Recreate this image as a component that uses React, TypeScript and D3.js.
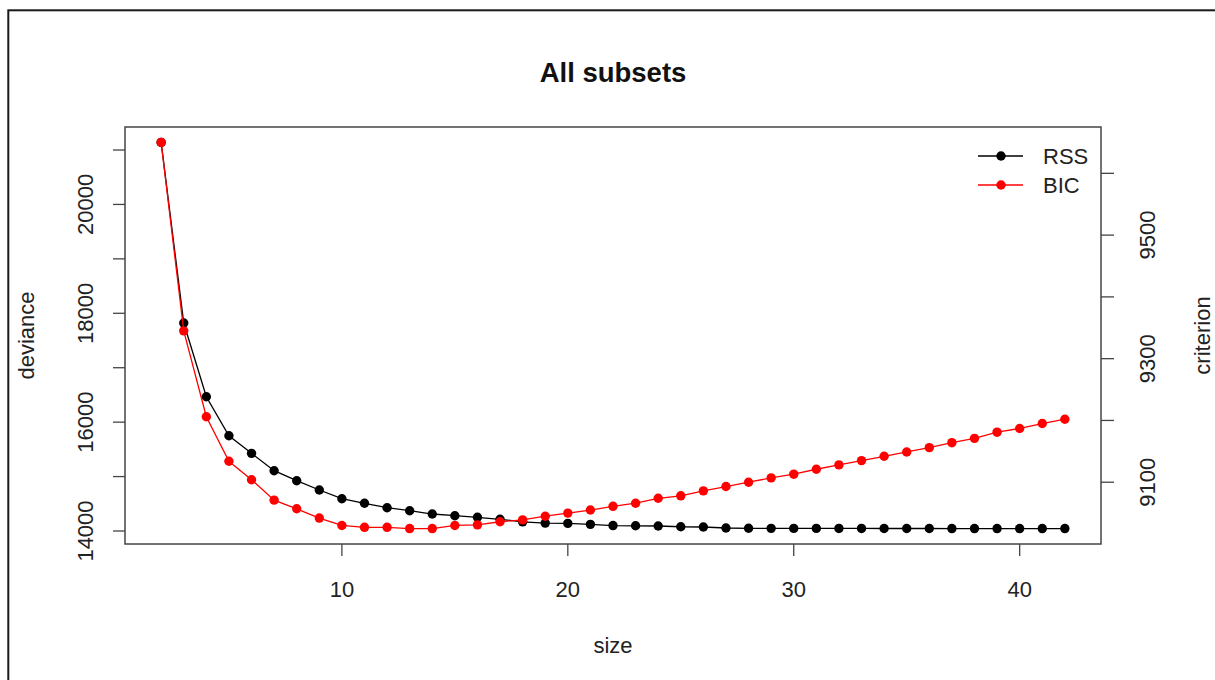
import React from "react";
import { scaleLinear, line, extent } from "d3";

// model sizes and the two criteria
const sizes = [
  2, 3, 4, 5, 6, 7, 8, 9, 10, 11, 12, 13, 14, 15, 16, 17, 18, 19, 20, 21, 22,
  23, 24, 25, 26, 27, 28, 29, 30, 31, 32, 33, 34, 35, 36, 37, 38, 39, 40, 41, 42
];
const rss = [
  21139, 17821, 16467, 15751, 15427, 15108, 14924, 14753, 14593, 14509, 14428,
  14373, 14312, 14281, 14252, 14215, 14169, 14145, 14140, 14122, 14100, 14096,
  14092, 14078, 14074, 14055, 14050, 14049, 14048, 14048, 14047, 14047, 14046,
  14046, 14046, 14045, 14045, 14045, 14045, 14045, 14045
];
const bic = [
  9650, 9345, 9206, 9134, 9104, 9071, 9057, 9042, 9030, 9027, 9027, 9025, 9025,
  9030, 9031, 9036, 9039, 9045, 9050, 9055, 9061, 9066, 9074, 9078, 9086, 9093,
  9100, 9107, 9113, 9121, 9128, 9135, 9142, 9149, 9156, 9164, 9171, 9181, 9187,
  9195, 9202
];

const xTicks = [10, 20, 30, 40];
const leftTicks = [14000, 15000, 16000, 17000, 18000, 19000, 20000, 21000];
const leftLabels = [14000, 16000, 18000, 20000];
const rightTicks = [9100, 9200, 9300, 9400, 9500, 9600];
const rightLabels = [9100, 9300, 9500];

const legendKeys = ["RSS", "BIC"];
const colors: Record<string, string> = { RSS: "#000000", BIC: "#ff0000" };

const W = 1215;
const H = 680;
const plot = { left: 125, right: 1101, top: 127, bottom: 544 };
const FONT = "'Liberation Sans', Arial, Helvetica, sans-serif";

// R style axis range: data extent padded by 4% on each side
function rDomain(vals: number[]): [number, number] {
  const [lo, hi] = extent(vals) as [number, number];
  const pad = (hi - lo) * 0.04;
  return [lo - pad, hi + pad];
}

export default function App() {
  const x = scaleLinear().domain(rDomain(sizes)).range([plot.left, plot.right]);
  const yL = scaleLinear().domain(rDomain(rss)).range([plot.bottom, plot.top]);
  const yR = scaleLinear().domain(rDomain(bic)).range([plot.bottom, plot.top]);

  const rssPts = sizes.map((s, i) => [x(s), yL(rss[i])] as [number, number]);
  const bicPts = sizes.map((s, i) => [x(s), yR(bic[i])] as [number, number]);
  const path = line();

  const series = [
    { key: "RSS", pts: rssPts },
    { key: "BIC", pts: bicPts }
  ];

  return (
    <div style={{ position: "absolute", left: 0, top: 0 }}>
      <svg width={W} height={H} style={{ display: "block", background: "#fff" }} fontFamily={FONT}>
        {/* outer frame of the screenshot */}
        <rect x={8.3} y={10.3} width={W + 20} height={H + 20} fill="none" stroke="#1a1a1a" strokeWidth={2} />

        <text x={(plot.left + plot.right) / 2} y={82} textAnchor="middle" fontSize={27.5} fontWeight="bold" fill="#111">
          All subsets
        </text>

        {/* series */}
        {series.map(s => (
          <g key={s.key}>
            <path d={path(s.pts) || ""} fill="none" stroke={colors[s.key]} strokeWidth={1.3} />
            {s.pts.map((p, i) => (
              <circle key={i} cx={p[0]} cy={p[1]} r={4.7} fill={colors[s.key]} />
            ))}
          </g>
        ))}

        <rect
          x={plot.left}
          y={plot.top}
          width={plot.right - plot.left}
          height={plot.bottom - plot.top}
          fill="none"
          stroke="#444"
          strokeWidth={1.5}
        />

        {/* x axis */}
        {xTicks.map(t => (
          <g key={t}>
            <line x1={x(t)} x2={x(t)} y1={plot.bottom} y2={plot.bottom + 12} stroke="#444" strokeWidth={1.3} />
            <text x={x(t)} y={597} textAnchor="middle" fontSize={22} fill="#222">
              {t}
            </text>
          </g>
        ))}
        <text x={(plot.left + plot.right) / 2} y={653} textAnchor="middle" fontSize={22} fill="#222">
          size
        </text>

        {/* left axis */}
        {leftTicks.map(t => (
          <line key={t} x1={plot.left - 12} x2={plot.left} y1={yL(t)} y2={yL(t)} stroke="#444" strokeWidth={1.3} />
        ))}
        {leftLabels.map(t => (
          <text key={t} transform={`translate(93,${yL(t)}) rotate(-90)`} textAnchor="middle" fontSize={22} fill="#222">
            {t}
          </text>
        ))}
        <text transform={`translate(34,${(plot.top + plot.bottom) / 2}) rotate(-90)`} textAnchor="middle" fontSize={22} fill="#222">
          deviance
        </text>

        {/* right axis */}
        {rightTicks.map(t => (
          <line key={t} x1={plot.right} x2={plot.right + 13} y1={yR(t)} y2={yR(t)} stroke="#444" strokeWidth={1.3} />
        ))}
        {rightLabels.map(t => (
          <text key={t} transform={`translate(1155,${yR(t)}) rotate(-90)`} textAnchor="middle" fontSize={22} fill="#222">
            {t}
          </text>
        ))}
        <text transform={`translate(1210,${(plot.top + plot.bottom) / 2}) rotate(-90)`} textAnchor="middle" fontSize={22} fill="#222">
          criterion
        </text>

        {/* legend */}
        {legendKeys.map((k, i) => {
          const ly = 156 + i * 29;
          return (
            <g key={k}>
              <line x1={978} x2={1023} y1={ly} y2={ly} stroke={colors[k]} strokeWidth={1.3} />
              <circle cx={1001} cy={ly} r={4.7} fill={colors[k]} />
              <text x={1043} y={ly} dominantBaseline="central" fontSize={22} fill="#222">
                {k}
              </text>
            </g>
          );
        })}
      </svg>
    </div>
  );
}
